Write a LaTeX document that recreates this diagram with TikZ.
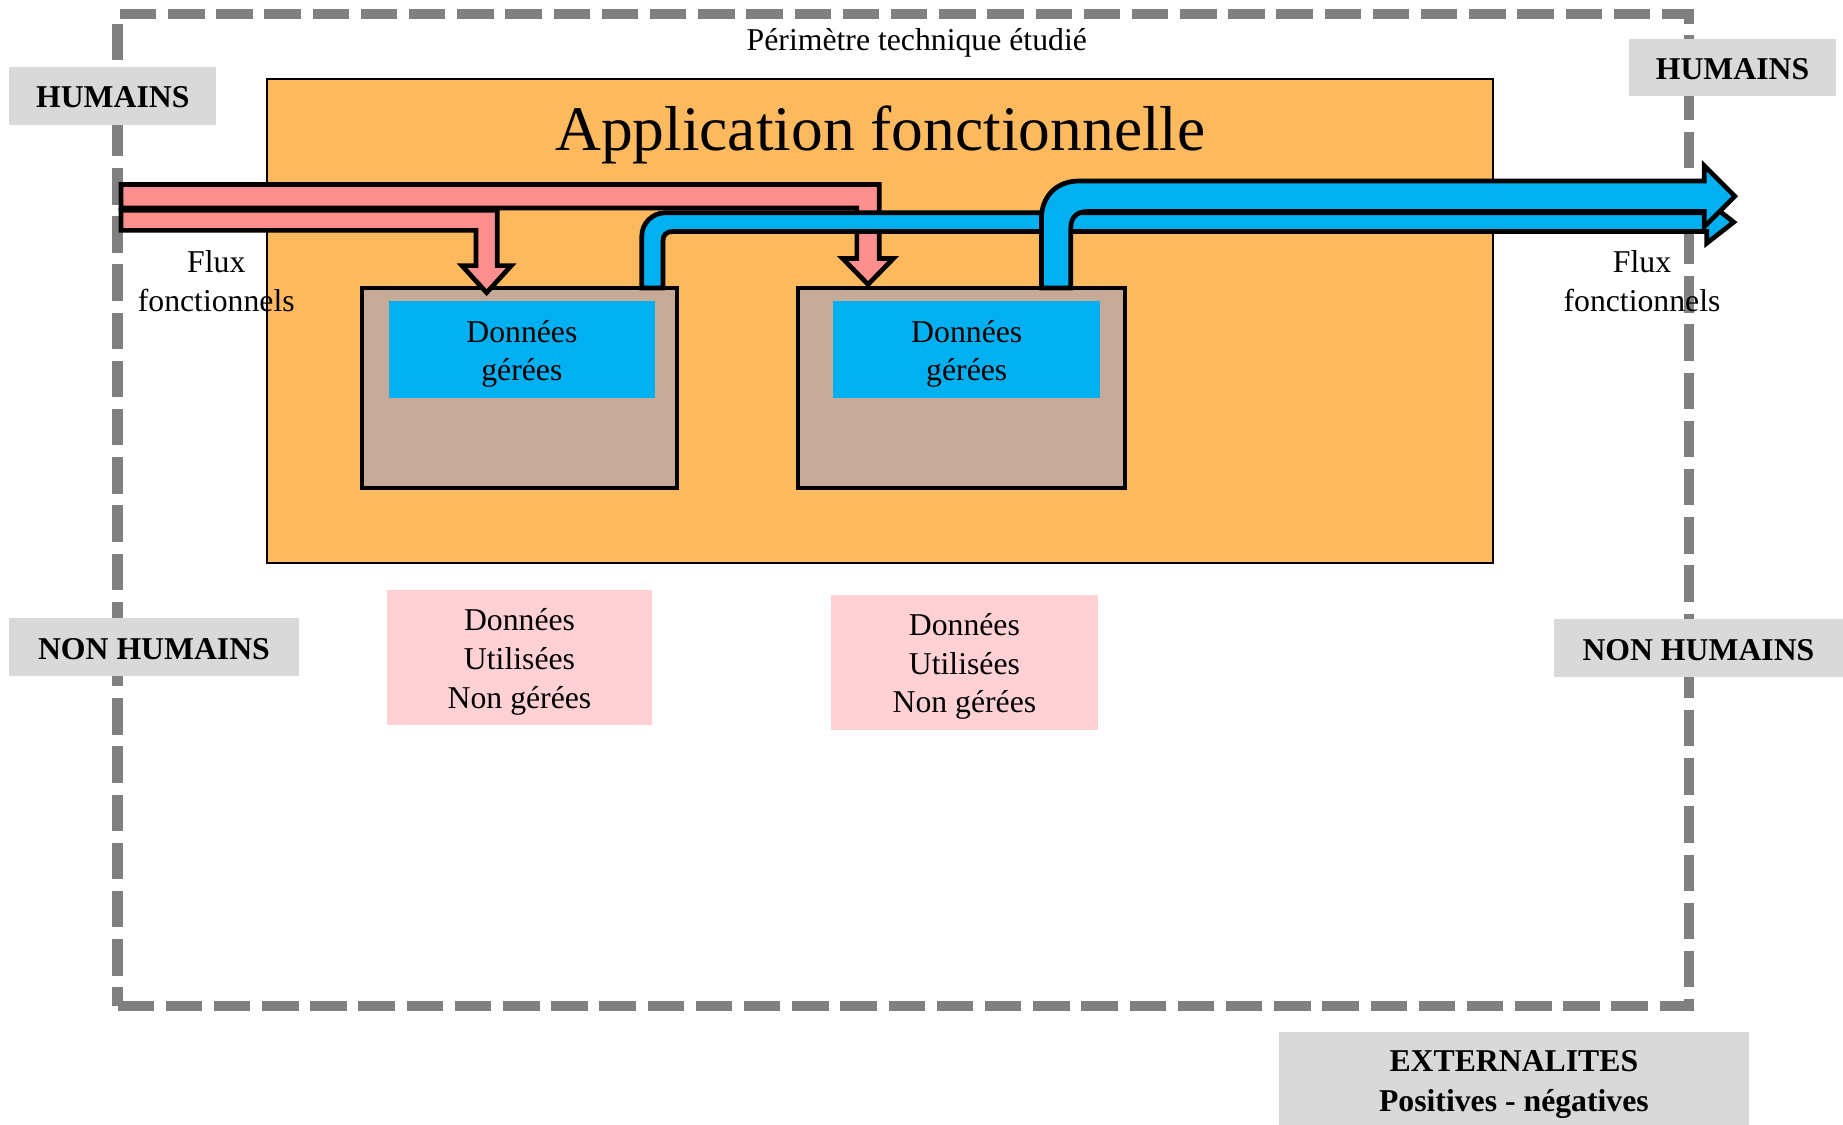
\documentclass[tikz,border=0pt]{standalone}
\usepackage{fontspec}
\setmainfont{Liberation Serif}
\definecolor{frameGray}{RGB}{128,128,128}
\definecolor{labelGray}{RGB}{217,217,217}
\definecolor{appOrange}{RGB}{253,185,94}
\definecolor{storeTan}{RGB}{198,170,151}
\definecolor{dataBlue}{RGB}{0,176,240}
\definecolor{flowPink}{RGB}{255,143,143}
\definecolor{usedPink}{RGB}{255,209,212}
\begin{document}
\begin{tikzpicture}[x=1pt,y=-1pt,
  txt/.style={font=\fontsize{27}{33}\selectfont, align=center, inner sep=0pt},
  boldtxt/.style={font=\fontsize{27}{34}\selectfont\bfseries, align=center, inner sep=0pt},
  plate/.style={inner sep=0pt},
  tag/.style={plate, fill=labelGray},
  store/.style={draw=black, line width=3.5, fill=storeTan, inner sep=0pt, minimum height=170},
  managed/.style={plate, fill=dataBlue, minimum width=226, minimum height=83},
  used/.style={plate, fill=usedPink, minimum width=226, minimum height=115},
  flow/.style={draw=black, line width=4, line join=miter},
]
\useasboundingbox (0,0) rectangle (1568,957);

% study perimeter
\node[draw=frameGray, line width=9, dash pattern=on 31 off 10,
      minimum width=1337, minimum height=844, inner sep=0pt] (frame) at (768.5,434) {};
\node[txt] (perim) at (780,36.5) {Périmètre technique étudié};

% actor labels
\node[tag, minimum width=176, minimum height=49] (humL) at (96,81.5) {};
\node[boldtxt] (humLtxt) at ([yshift=-1.5pt]humL.center) {HUMAINS};
\node[tag, minimum width=176, minimum height=49] (humR) at (1474,57.5) {};
\node[boldtxt] (humRtxt) at ([yshift=-1.5pt]humR.center) {HUMAINS};
\node[tag, minimum width=246, minimum height=49] (nonL) at (131,550.5) {};
\node[boldtxt] (nonLtxt) at ([yshift=-1.5pt]nonL.center) {NON HUMAINS};
\node[tag, minimum width=246, minimum height=49] (nonR) at (1445,551.5) {};
\node[boldtxt] (nonRtxt) at ([yshift=-1.5pt]nonR.center) {NON HUMAINS};
\node[tag, minimum width=400, minimum height=79] (ext) at (1288,917.5) {};
\node[boldtxt] (exttxt) at ([yshift=-5pt]ext.center) {EXTERNALITES\\Positives - négatives};

% application
\node[draw=black, line width=1.5, fill=appOrange, minimum width=1043, minimum height=412, inner sep=0pt] (app) at (748.5,273) {};
\node[font=\fontsize{54}{64}\selectfont, inner sep=0pt] (title) at (749,115) {Application fonctionnelle};

% data stores
\node[store, minimum width=268] (store1) at (442,330) {};
\node[store, minimum width=278] (store2) at (818,330) {};
\node[managed] (data1) at (444,297.5) {};
\node[txt] (data1txt) at ([yshift=-3.5pt]data1.center) {Données\\gérées};
\node[managed, minimum width=227] (data2) at (822.5,297.5) {};
\node[txt] (data2txt) at ([yshift=-3.5pt]data2.center) {Données\\gérées};

% used but not managed data
\node[used] (used1) at (442,559.5) {};
\node[txt] (used1txt) at ([yshift=-3.5pt]used1.center) {Données\\Utilisées\\Non gérées};
\node[used, minimum width=227] (used2) at (820.5,563.5) {};
\node[txt] (used2txt) at ([yshift=-3.5pt]used2.center) {Données\\Utilisées\\Non gérées};

% incoming flows
\draw[flow, fill=flowPink] (103,157) -- (748,157) -- (748,220) -- (760,220)
  -- (738.5,242) -- (717,220) -- (729,220) -- (729,177) -- (103,177) -- cycle;
\draw[flow, fill=flowPink] (103,179) -- (423,179) -- (423,226) -- (435,226)
  -- (414,249) -- (393,226) -- (405,226) -- (405,196) -- (103,196) -- cycle;

% outgoing flows
\draw[flow, fill=dataBlue] (546,245) -- (546,201) .. controls (546,190) and (555,181) .. (566,181)
  -- (1452,181) -- (1452,171) -- (1475,189) -- (1452,207) -- (1452,197) -- (572,197)
  .. controls (567,197) and (564,200) .. (564,205) -- (564,245) -- cycle;
\draw[flow, fill=dataBlue] (886,245) -- (886,186) .. controls (886,168) and (898,154) .. (918,154)
  -- (1450,154) -- (1450,141) -- (1476,167) -- (1450,193) -- (1450,180) -- (925,180)
  .. controls (916,180) and (911,185) .. (911,194) -- (911,245) -- cycle;

% flow captions
\node[txt] (fluxL) at (184,239) {Flux\\fonctionnels};
\node[txt] (fluxR) at (1397,239) {Flux\\fonctionnels};
\end{tikzpicture}
\end{document}
